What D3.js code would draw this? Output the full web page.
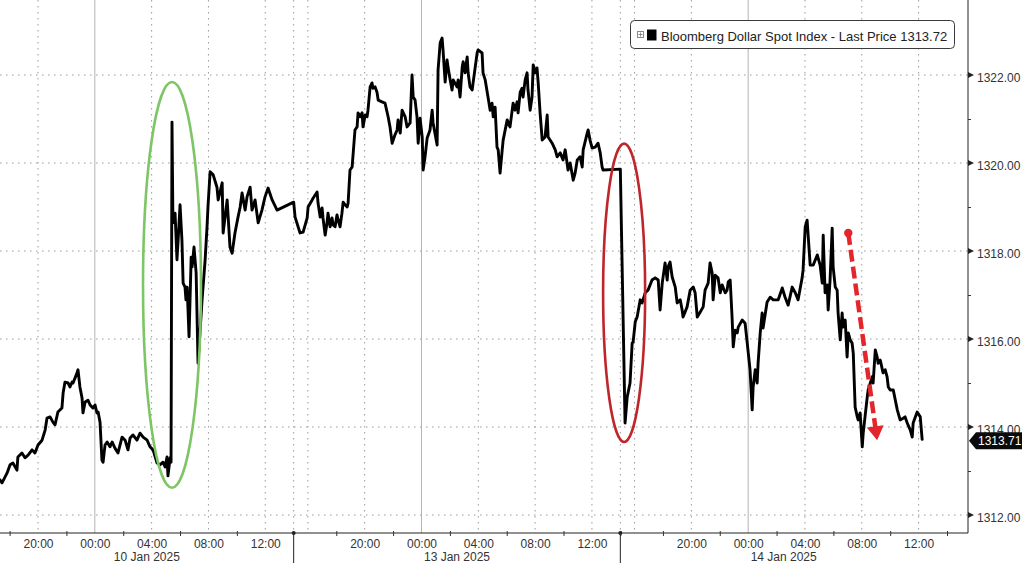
<!DOCTYPE html>
<html><head><meta charset="utf-8">
<script src="https://cdn.jsdelivr.net/npm/d3@7"></script>
<style>
html,body{margin:0;padding:0;background:#fff;}
svg{display:block;font-family:"Liberation Sans",Arial,sans-serif;}
</style>
</head><body>
<svg id="chart" width="1024" height="563"></svg>
<script>
// ---------- DATA ----------
// trading days (each runs 15:00 previous day -> 14:00)
const sessionLabels = ["10 Jan 2025", "13 Jan 2025", "14 Jan 2025"];
const majorHours = [16, 20, 0, 4, 8, 12];
const minorHours = [18, 22, 2, 6, 10, 14];
const priceTicks = [1312, 1314, 1316, 1318, 1320, 1322];
const priceMinorTicks = [1313, 1315, 1317, 1319, 1321];
const seriesName = "Bloomberg Dollar Spot Index - Last Price";
const legendPrice = 1313.72;
const lastPrice = 1313.71;

const jan10Session = [
["17:19",1312.80],["17:28",1312.73],["17:49",1312.95],["18:02",1313.14],["18:14",1313.18],["18:31",1313.02],
["18:35",1313.32],["18:52",1313.41],["19:05",1313.30],["19:18",1313.36],["19:35",1313.48],["19:47",1313.41],
["20:00",1313.59],["20:17",1313.70],["20:30",1313.93],["20:38",1314.20],["20:51",1314.23],["21:03",1314.11],
["21:12",1314.05],["21:24",1314.34],["21:41",1314.43],["21:46",1314.77],["21:54",1315.02],["22:07",1315.00],
["22:15",1314.91],["22:24",1315.02],["22:28",1315.00],["22:45",1315.23],["22:49",1315.30],["22:57",1314.91],
["23:06",1314.66],["23:10",1314.32],["23:19",1314.57],["23:31",1314.61],["23:40",1314.50],["23:52",1314.43],
["00:01",1314.50],["00:09",1314.32],["00:14",1314.34],["00:22",1314.11],["00:30",1313.25],["00:35",1313.20],
["00:43",1313.59],["00:52",1313.66],["01:04",1313.55],["01:13",1313.66],["01:25",1313.52],["01:38",1313.41],
["01:55",1313.77],["02:08",1313.70],["02:20",1313.48],["02:29",1313.75],["02:41",1313.82],["02:58",1313.70],
["03:11",1313.86],["03:24",1313.77],["03:41",1313.70],["03:53",1313.55],["04:06",1313.48],["04:23",1313.18],
["04:35",1313.14],["04:48",1313.20],["04:57",1313.09],["05:05",1313.32],["05:09",1312.89],["05:18",1313.30],
["05:22",1313.20],["05:26",1320.93],["05:30",1318.64],["05:39",1318.86],["05:47",1317.80],["05:52",1318.25],
["06:00",1319.05],["06:08",1318.25],["06:13",1317.27],["06:21",1317.18],["06:25",1316.89],["06:30",1317.18],
["06:38",1316.05],["06:47",1317.86],["06:51",1317.64],["06:59",1318.09],["07:08",1317.50],["07:16",1315.45],
["07:33",1316.89],["07:46",1317.80],["07:54",1318.55],["07:58",1319.00],["08:07",1319.80],["08:20",1319.73],
["08:36",1319.45],["08:41",1319.16],["08:58",1319.55],["09:02",1318.41],["09:19",1319.16],["09:31",1318.09],
["09:40",1317.95],["09:52",1318.41],["10:05",1318.77],["10:14",1319.00],["10:22",1319.32],["10:35",1318.93],
["10:43",1319.23],["10:56",1319.45],["11:04",1318.93],["11:17",1319.16],["11:30",1318.64],["11:46",1318.93],
["11:59",1319.23],["12:12",1319.43],["12:29",1319.16],["12:50",1318.93]
];

const jan13Session = [
["15:00",1319.11],["15:06",1318.77],["15:27",1318.41],["15:40",1318.43],["15:57",1318.75],["16:01",1319.00],
["16:18",1319.16],["16:22",1319.20],["16:39",1319.34],["16:43",1319.09],["16:52",1318.77],["17:00",1318.98],
["17:04",1318.75],["17:13",1318.36],["17:21",1318.64],["17:25",1318.86],["17:34",1318.55],["17:42",1318.75],
["17:47",1318.59],["17:55",1318.55],["18:03",1318.82],["18:08",1318.70],["18:16",1318.55],["18:24",1318.86],
["18:29",1319.11],["18:37",1319.05],["18:46",1319.00],["18:50",1319.09],["18:58",1319.84],["19:07",1319.91],
["19:19",1320.75],["19:28",1320.82],["19:32",1321.14],["19:41",1321.05],["19:49",1321.14],["19:53",1320.82],
["20:02",1321.09],["20:10",1321.05],["20:14",1321.20],["20:23",1321.73],["20:31",1321.82],["20:35",1321.70],
["20:44",1321.73],["20:52",1321.61],["20:57",1321.43],["21:13",1321.39],["21:26",1321.36],["21:39",1321.05],
["21:47",1320.82],["21:56",1320.45],["22:08",1320.64],["22:17",1320.75],["22:21",1320.98],["22:30",1320.68],
["22:38",1321.20],["22:51",1321.05],["22:59",1320.82],["23:12",1320.91],["23:20",1322.00],["23:25",1321.50],
["23:33",1321.43],["23:41",1321.05],["23:46",1320.45],["23:54",1321.02],["00:03",1320.59],["00:07",1319.84],
["00:15",1320.14],["00:24",1320.57],["00:36",1320.75],["00:45",1321.20],["00:49",1320.91],["01:06",1320.41],
["01:10",1322.11],["01:19",1322.73],["01:27",1322.84],["01:31",1322.57],["01:40",1321.84],["01:48",1322.34],
["01:52",1322.18],["02:01",1321.89],["02:09",1321.66],["02:14",1321.89],["02:30",1321.73],["02:35",1321.89],
["02:43",1321.50],["02:52",1322.18],["02:56",1322.30],["03:04",1322.05],["03:13",1322.41],["03:17",1322.05],
["03:25",1321.73],["03:34",1321.66],["03:38",1321.82],["03:55",1322.50],["03:59",1322.57],["04:16",1322.50],
["04:20",1322.05],["04:29",1321.89],["04:41",1321.50],["04:50",1321.20],["04:58",1321.36],["05:03",1321.05],
["05:11",1321.27],["05:19",1320.36],["05:24",1320.30],["05:32",1319.77],["05:41",1320.30],["05:45",1320.52],
["06:02",1320.98],["06:14",1320.82],["06:27",1321.36],["06:35",1321.20],["06:44",1321.39],["06:48",1321.14],
["06:57",1321.61],["07:05",1321.70],["07:09",1321.50],["07:18",1321.89],["07:26",1322.05],["07:30",1321.66],
["07:39",1321.20],["07:47",1321.50],["07:52",1322.23],["08:00",1322.05],["08:08",1322.16],["08:13",1321.82],
["08:21",1321.14],["08:30",1320.52],["08:42",1320.59],["08:51",1321.09],["08:55",1320.59],["09:12",1320.45],
["09:25",1320.30],["09:33",1320.14],["09:46",1320.23],["09:58",1320.07],["10:07",1320.30],["10:15",1320.00],
["10:19",1319.84],["10:28",1320.00],["10:41",1319.61],["10:49",1319.77],["10:58",1320.07],["11:10",1320.14],
["11:19",1319.91],["11:23",1320.30],["11:40",1320.68],["11:44",1320.75],["11:52",1320.52],["12:01",1320.34],
["12:14",1320.36],["12:26",1320.45],["12:35",1320.23],["12:43",1319.91],["12:47",1319.84]
];

const jan14Session = [
["15:00",1319.86],["15:20",1314.09],["15:29",1314.68],["15:41",1315.00],["15:50",1315.91],["15:54",1315.93],
["16:03",1316.39],["16:11",1316.50],["16:24",1316.89],["16:32",1316.82],["16:45",1317.05],["16:57",1317.11],
["17:14",1317.34],["17:27",1317.39],["17:40",1317.34],["17:48",1316.66],["17:57",1317.27],["18:09",1317.73],
["18:18",1317.34],["18:22",1317.64],["18:30",1317.75],["18:39",1317.41],["18:52",1317.18],["19:00",1316.82],
["19:13",1316.89],["19:21",1316.66],["19:25",1316.50],["19:42",1316.73],["19:55",1317.11],["20:08",1317.18],
["20:16",1317.05],["20:25",1316.50],["20:37",1316.61],["20:50",1316.73],["20:58",1317.11],["21:11",1317.27],
["21:19",1317.73],["21:28",1317.50],["21:32",1316.89],["21:41",1317.45],["21:53",1317.39],["22:02",1317.05],
["22:10",1317.23],["22:23",1317.05],["22:31",1317.11],["22:36",1317.30],["22:44",1317.34],["22:52",1316.50],
["22:57",1315.82],["23:05",1316.20],["23:14",1316.14],["23:18",1316.27],["23:35",1316.43],["23:47",1316.36],
["23:56",1315.91],["00:08",1315.30],["00:17",1314.39],["00:21",1314.91],["00:30",1315.30],["00:38",1315.00],
["00:42",1315.45],["00:51",1316.14],["00:59",1316.59],["01:03",1316.25],["01:20",1316.84],["01:33",1316.95],
["01:46",1316.89],["02:07",1316.89],["02:24",1317.16],["02:36",1316.95],["02:49",1316.77],["03:06",1317.18],
["03:19",1317.05],["03:31",1316.89],["03:48",1317.39],["03:52",1317.57],["04:01",1318.55],["04:09",1318.70],
["04:22",1317.68],["04:35",1317.68],["04:52",1317.91],["05:04",1317.68],["05:13",1317.27],["05:17",1318.36],
["05:25",1317.05],["05:34",1317.23],["05:38",1316.66],["05:46",1317.34],["05:55",1318.52],["05:59",1317.64],
["06:08",1317.18],["06:16",1317.11],["06:20",1316.59],["06:29",1315.98],["06:37",1316.59],["06:41",1316.27],
["06:50",1316.43],["06:58",1315.59],["07:03",1316.14],["07:11",1315.98],["07:19",1315.91],["07:24",1315.68],
["07:32",1314.45],["07:41",1314.23],["07:45",1314.16],["07:53",1314.32],["08:02",1313.55],["08:06",1313.86],
["08:23",1314.68],["08:27",1314.84],["08:44",1315.14],["08:48",1315.00],["08:57",1315.75],["09:05",1315.59],
["09:09",1315.45],["09:18",1315.52],["09:30",1315.23],["09:39",1315.30],["09:47",1315.14],["09:52",1314.91],
["10:00",1314.84],["10:13",1314.84],["10:30",1314.39],["10:42",1314.16],["10:55",1314.20],["11:03",1314.23],
["11:12",1314.09],["11:25",1313.93],["11:33",1313.77],["11:37",1314.09],["11:54",1314.34],["12:07",1314.23],
["12:15",1313.72]
];

// annotations (session index, time, price)
const greenEllipse = {session:0, time:"05:26", price:1317.23, rxHours:2.04, ryPrice:4.61};
const redEllipse   = {session:2, time:"15:16", price:1317.05, rxHours:1.48, ryPrice:3.39};
const arrowFrom = {session:2, time:"07:03", price:1318.41};
const arrowTo   = {session:2, time:"09:05", price:1313.70};

// ---------- SETUP ----------
const SESSION_HOURS = 23;
function tradingHours(s, hhmm){
  const [h,m] = hhmm.split(":").map(Number);
  return s*SESSION_HOURS + (((h*60+m) - 900 + 1440) % 1440)/60;
}
const plotRight = 968, axisY = 533;
const x = d3.scaleLinear().domain([0, 3*SESSION_HOURS]).range([-33, 947]);
const y = d3.scaleLinear().domain([1312, 1322]).range([515, 75]);

const svg = d3.select("#chart");
svg.append("defs").append("clipPath").attr("id","plotclip")
  .append("rect").attr("x",0).attr("y",0).attr("width",plotRight).attr("height",axisY);

const gridG = svg.append("g").attr("clip-path","url(#plotclip)");
gridG.selectAll("line.hg").data(priceTicks).join("line")
  .attr("x1",0).attr("x2",plotRight).attr("y1",d=>y(d)).attr("y2",d=>y(d))
  .attr("stroke","#9a9a9a").attr("stroke-width",1).attr("stroke-dasharray","1.5,4.5");

const vGrid = [];
const majorT = [], minorT = [], separatorsT = [];
sessionLabels.forEach((lab,s)=>{
  separatorsT.push(s*SESSION_HOURS);
  majorHours.forEach(h=>{
    const t = tradingHours(s, String(h).padStart(2,"0")+":00");
    majorT.push({t, h});
    vGrid.push({t, solid: h===0});
  });
  minorHours.forEach(h=>minorT.push(tradingHours(s, String(h).padStart(2,"0")+":00") + (h===14?SESSION_HOURS:0)));
});
separatorsT.forEach(t=>vGrid.push({t, solid:false}));
gridG.selectAll("line.vg").data(vGrid).join("line")
  .attr("x1",d=>x(d.t)).attr("x2",d=>x(d.t)).attr("y1",0).attr("y2",axisY)
  .attr("stroke",d=>d.solid?"#b4b4b4":"#9a9a9a").attr("stroke-width",1)
  .attr("stroke-dasharray",d=>d.solid?null:"1.5,4.5");

// ---------- LINE ----------
const points = [jan10Session, jan13Session, jan14Session]
  .flatMap((arr,s)=>arr.map(([tm,p])=>({t:tradingHours(s,tm), p})));
const plotG = svg.append("g").attr("clip-path","url(#plotclip)");
plotG.append("path").datum(points)
  .attr("d", d3.line().x(d=>x(d.t)).y(d=>y(d.p)))
  .attr("fill","none").attr("stroke","#000").attr("stroke-width",2.9)
  .attr("stroke-linejoin","round").attr("stroke-linecap","round");

// ---------- ANNOTATIONS ----------
function drawEllipse(e, color){
  const tc = tradingHours(e.session, e.time);
  plotG.append("ellipse")
    .attr("cx", x(tc)).attr("cy", y(e.price))
    .attr("rx", x(tc+e.rxHours)-x(tc)).attr("ry", y(e.price)-y(e.price+e.ryPrice))
    .attr("fill","none").attr("stroke",color).attr("stroke-width",2.6);
}
drawEllipse(greenEllipse, "#7ec566");
drawEllipse(redEllipse, "#bf262c");

(function(){
  const x0 = x(tradingHours(arrowFrom.session, arrowFrom.time)), y0 = y(arrowFrom.price);
  const x1 = x(tradingHours(arrowTo.session, arrowTo.time)), y1 = y(arrowTo.price);
  const dx = x1-x0, dy = y1-y0, L = Math.hypot(dx,dy), ux = dx/L, uy = dy/L;
  const headLen = 14, headHalf = 8.5;
  const bx = x1-ux*headLen, by = y1-uy*headLen;
  const col = "#e2262b";
  plotG.append("line").attr("x1",x0).attr("y1",y0).attr("x2",bx+ux*2).attr("y2",by+uy*2)
    .attr("stroke",col).attr("stroke-width",4.5).attr("stroke-dasharray","12,5");
  plotG.append("circle").attr("cx",x0).attr("cy",y0).attr("r",4.2).attr("fill",col);
  plotG.append("path").attr("d",`M${x1},${y1}L${bx - uy*headHalf},${by + ux*headHalf}L${bx + uy*headHalf},${by - ux*headHalf}Z`)
    .attr("fill",col);
})();

// ---------- AXES ----------
const txtCol = "#333";
svg.append("line").attr("x1",0).attr("x2",plotRight).attr("y1",axisY).attr("y2",axisY)
  .attr("stroke","#222").attr("stroke-width",1);
svg.append("line").attr("x1",plotRight).attr("x2",plotRight).attr("y1",0).attr("y2",axisY)
  .attr("stroke","#222").attr("stroke-width",1);

const xMajor = svg.append("g").attr("transform",`translate(0,${axisY})`)
  .call(d3.axisBottom(x).tickValues(majorT.filter(d=>d.h!==16).map(d=>d.t))
    .tickSize(0).tickPadding(6.5)
    .tickFormat(t=>{const d = majorT.find(m=>Math.abs(m.t-t)<1e-6); return String(d.h).padStart(2,"0")+":00";}));
xMajor.select(".domain").remove();
xMajor.selectAll("text").attr("fill",txtCol).style("font-size","12px").style("font-family","Liberation Sans, Arial, sans-serif");
xMajor.selectAll("g.tick").filter(d=>x(d)<0||x(d)>plotRight).remove();

const xMinor = svg.append("g").attr("transform",`translate(0,${axisY-2})`)
  .call(d3.axisBottom(x).tickValues(minorT.filter(t=>x(t)>=0 && x(t)<=plotRight)).tickSize(5).tickFormat(""));
xMinor.select(".domain").remove();
xMinor.selectAll("line").attr("stroke","#333");

svg.selectAll("line.sep").data(separatorsT.filter(t=>x(t)>=0)).join("line")
  .attr("x1",d=>x(d)).attr("x2",d=>x(d)).attr("y1",axisY).attr("y2",563)
  .attr("stroke","#222").attr("stroke-width",1);
svg.selectAll("circle.sep").data(separatorsT.filter(t=>x(t)>=0)).join("circle")
  .attr("cx",d=>x(d)).attr("cy",axisY).attr("r",2).attr("fill","#222");
svg.selectAll("text.day").data(sessionLabels).join("text")
  .attr("x",(d,s)=>(Math.max(0,x(s*SESSION_HOURS)) + x((s+1)*SESSION_HOURS))/2)
  .attr("y",561).attr("text-anchor","middle").attr("fill",txtCol)
  .style("font-size","12px").text(d=>d);

const yAx = svg.append("g").attr("transform",`translate(${plotRight},0)`)
  .call(d3.axisRight(y).tickValues(priceTicks).tickSize(0).tickPadding(9).tickFormat(d3.format(".2f")));
yAx.select(".domain").remove();
yAx.selectAll("text").attr("fill",txtCol).attr("dy","0.55em")
  .style("font-size","12px").style("font-family","Liberation Sans, Arial, sans-serif");
svg.selectAll("path.tri").data(priceTicks).join("path")
  .attr("d",d=>`M${plotRight},${y(d)-3}L${plotRight+6},${y(d)}L${plotRight},${y(d)+3}Z`)
  .attr("fill","#222");
const yMin = svg.append("g").attr("transform",`translate(${plotRight},0)`)
  .call(d3.axisRight(y).tickValues(priceMinorTicks).tickSize(3).tickFormat(""));
yMin.select(".domain").remove();
yMin.selectAll("line").attr("stroke","#333");

// last price tag
(function(){
  const cy = y(lastPrice) + 1;
  svg.append("path")
    .attr("d",`M${plotRight+1},${cy}L${plotRight+8},${cy-8.5}L1022,${cy-8.5}L1022,${cy+8.5}L${plotRight+8},${cy+8.5}Z`)
    .attr("fill","#0b0b0b");
  svg.append("text").attr("x",plotRight+10).attr("y",cy+4.5).attr("fill","#fff")
    .style("font-size","12px").text(lastPrice.toFixed(2));
})();

// ---------- LEGEND ----------
const lg = svg.append("g");
lg.append("rect").attr("x",630.5).attr("y",20.5).attr("width",324).attr("height",28).attr("rx",4)
  .attr("fill","#fff").attr("stroke","#3a3a3a").attr("stroke-width",1);
lg.append("rect").attr("x",637.5).attr("y",31.5).attr("width",6).attr("height",6)
  .attr("fill","none").attr("stroke","#8a8a8a").attr("stroke-width",1);
lg.append("path").attr("d","M638.5,34.5H642.5M640.5,32.5V36.5").attr("stroke","#8a8a8a").attr("stroke-width",1);
lg.append("rect").attr("x",647).attr("y",29.5).attr("width",9.5).attr("height",11).attr("fill","#000");
lg.append("text").attr("x",661).attr("y",40.5).attr("fill","#222")
  .style("font-size","13px").text(`${seriesName} ${legendPrice.toFixed(2)}`);
</script>
</body></html>
